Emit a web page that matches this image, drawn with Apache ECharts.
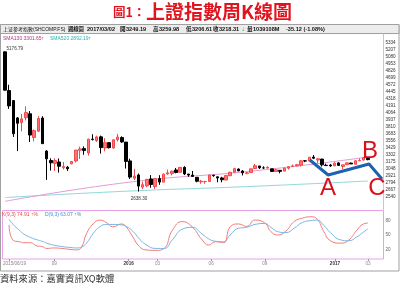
<!DOCTYPE html>
<html><head><meta charset="utf-8">
<script src="https://cdn.jsdelivr.net/npm/echarts@6/dist/echarts.min.js"></script>
<style>html,body{margin:0;padding:0;background:#fff}#c{width:400px;height:283px}</style>
</head><body><div id="c"></div>
<script>
// ---- data ----
const dates = ['2015/06/19','2015/06/26','2015/07/03','2015/07/10','2015/07/17','2015/07/24','2015/07/31','2015/08/07','2015/08/14','2015/08/21',
'2015/08/28','2015/09/02','2015/09/11','2015/09/18','2015/09/25','2015/09/30','2015/10/09','2015/10/16','2015/10/23','2015/10/30',
'2015/11/06','2015/11/13','2015/11/20','2015/11/27','2015/12/04','2015/12/11','2015/12/18','2015/12/25','2015/12/31','2016/01/08',
'2016/01/15','2016/01/22','2016/01/29','2016/02/05','2016/02/19','2016/02/26','2016/03/04','2016/03/11','2016/03/18','2016/03/25',
'2016/04/01','2016/04/08','2016/04/15','2016/04/22','2016/04/29','2016/05/06','2016/05/13','2016/05/20','2016/05/27','2016/06/03',
'2016/06/08','2016/06/17','2016/06/24','2016/07/01','2016/07/08','2016/07/15','2016/07/22','2016/07/29','2016/08/05','2016/08/12',
'2016/08/19','2016/08/26','2016/09/02','2016/09/09','2016/09/14','2016/09/23','2016/09/30','2016/10/14','2016/10/21','2016/10/28',
'2016/11/04','2016/11/11','2016/11/18','2016/11/25','2016/12/02','2016/12/09','2016/12/16','2016/12/23','2016/12/30','2017/01/06',
'2017/01/13','2017/01/20','2017/01/26','2017/02/03','2017/02/10','2017/02/17','2017/02/24','2017/03/02'];
const padCats = ['2017/03/10','2017/03/17','2017/03/24'];
const opens = [5174,4471,4290,3975,3890,3977,4050,3620,3735,3973,
3373,3203,3149,3175,3070,3081,3143,3193,3390,3418,
3339,3589,3563,3631,3430,3526,3431,3580,3620,3536,
3194,2880,2939,2720,2743,2868,2728,2875,2810,2958,
2965,3031,2990,3078,2956,2937,2897,2815,2820,2822,
2934,2906,2886,2848,2926,2989,3047,3011,2970,2983,
3057,3103,3068,3064,3051,3001,3024,3010,3063,3095,
3103,3118,3196,3195,3264,3211,3228,3116,3120,3105,
3159,3095,3126,3156,3133,3195,3210,3249.19];
const closes = [4478,4193,3687,3878,3957,4071,3664,3744,3965,3508,
3232,3160,3200,3098,3092,3053,3183,3391,3412,3383,
3590,3581,3630,3436,3525,3435,3579,3628,3539,3186,
2901,2917,2738,2763,2860,2767,2874,2810,2955,2979,
3010,2985,3078,2959,2938,2913,2827,2825,2821,2939,
2927,2885,2854,2932,2988,3054,3013,2979,2977,3051,
3108,3070,3067,3079,3003,3034,3005,3064,3091,3104,
3125,3196,3193,3262,3244,3233,3123,3110,3104,3154,
3113,3123,3159,3140,3197,3202,3253,3218.31];
const lows = [4476,4139,3630,3374,3730,3929,3537,3549,3717,3503,
2851,3019,3011,2983,3040,3012,3133,3166,3229,3306,
3290,3566,3540,3327,3368,3420,3414,3546,3522,3056,
2867,2848,2638.30,2683,2718,2707,2685,2761,2805,2944,
2932,2969,2980,2938,2905,2913,2806,2780,2780,2821,
2907,2807,2807,2846,2921,2981,3011,2931,2952,2977,
3057,3049,3051,3062,2999,2999,2969,3008,3037,3084,
3098,3093,3172,3195,3228,3153,3093,3102,3088,3100,
3105,3045,3126,3140,3131,3193,3202,3206.61];
const highs = [5176.79,4577,4297,3990,4047,4184,4100,3764,4006,4006,
3390,3242,3243,3239,3176,3100,3194,3394,3454,3459,
3596,3678,3653,3654,3608,3537,3581,3685,3640,3539,
3235,3051,2966,2820,2866,2938,2884,2936,2969,3037,
3018,3066,3083,3098,2960,3013,2900,2851,2832,2939,
2942,2908,2906,2937,3000,3070,3058,3028,2995,3051,
3140,3103,3097,3097,3053,3050,3028,3073,3093,3129,
3141,3211,3212,3264,3301,3249,3233,3146,3139,3172,
3171,3124,3166,3162,3205,3241,3265,3259.98];
// moving averages read at a few points: [bar index, value]
const sma130 = [[0,2461],[30,2811],[60,3016],[87,3265]];
const sma520 = [[0,2530],[29,2645],[60,2735],[87,2830]];
// KD oscillator read at points: [bar index, value]
const kLine = [[0,71],[1,39],[2.5,36],[3.6,34],[5.2,34],[6.8,27],[8,26],[9.2,22],[10.8,23],[12.8,22],[14.8,20],[16.4,19],[17.6,25],[18.8,53],[20.4,73],[22,81],[23.6,76],[25.2,67],[27.2,73],[28.4,67],[30,46],[31.6,26],[33.2,19],[35.6,18],[37.6,22],[39.6,60],[42,78],[44.4,67],[46.8,40],[48.4,29],[50,36],[52,34],[53.6,67],[55.6,73],[57.6,68],[59.6,81],[62,75],[63.5,57],[65.1,50],[67.1,58],[69.1,78],[71.1,85],[73.1,88],[74.7,83],[76.3,57],[77.9,38],[80.3,33],[82.3,39],[84.3,60],[85.9,73],[87,74.91]];
const dLine = [[0,83],[1,72],[2.5,60],[3.6,52],[5.2,45],[6.8,40],[8,37],[9.2,33],[10.8,29],[12.8,26],[14.8,24],[16.4,23],[17.6,25],[18.8,33],[20.4,53],[22,67],[23.6,72],[25.2,72],[27.2,71],[28.4,68],[30,58],[31.6,42],[33.2,30],[35.6,22],[37.6,22],[39.6,40],[42,62],[44.4,66],[46.8,52],[48.4,42],[50,37],[52,36],[53.6,50],[55.6,64],[57.6,66],[59.6,72],[62,74],[63.5,66],[65.1,57],[67.1,55],[69.1,64],[71.1,76],[73.1,80],[74.7,81],[76.3,70],[77.9,55],[80.3,40],[82.3,38],[84.3,46],[85.9,56],[87,63.07]];
// hand-drawn A-B-C wave annotation: [bar index, value]
const abcPath = [[73.1,3211],[77.5,2939],[87.3,3139],[90.4,2867]];
const priceTicks = [2540,2667,2794,2921,3048,3175,3302,3429,3556,3683,3810,3937,4064,4191,4318,4445,4572,4699,4826,4953,5080,5207,5334];
const kdTicks = [20,50,80];
const tickDates = ['2015/06/19','2015/09/02','2016/01/08','2016/03/04','2016/06/03','2016/09/02','2017/01/06','2017/03/02'];
const tickLabels = ['2015/06/19','09','2016','03','06','09','2017','03'];

// ---- chart ----
const FONT = "'Liberation Sans','Noto Sans CJK TC',sans-serif";
const CJK = "'Noto Sans CJK TC','Liberation Sans',sans-serif";
const cats = dates.concat(padCats);
const candles = dates.map((d,i)=>[opens[i],closes[i],lows[i],highs[i]]);
const isTick = (i, v) => tickDates.indexOf(v) >= 0;
const chart = echarts.init(document.getElementById('c'), null, {renderer:'canvas'});
const GL = 2.9, GW = 379.5;
chart.setOption({
  animation:false,
  backgroundColor:'#fff',
  grid:[{left:GL, top:36, width:GW, height:168},{left:GL, top:211, width:GW, height:48}],
  xAxis:[
    {type:'category', gridIndex:0, data:cats, boundaryGap:true, axisLine:{show:false}, axisTick:{show:false}, axisLabel:{show:false}, splitLine:{show:false}},
    {type:'value', gridIndex:0, min:-0.5, max:90.5, show:false},
    {type:'category', gridIndex:1, data:cats, boundaryGap:true, axisLine:{show:false},
      axisTick:{show:true, interval:isTick, alignWithLabel:true, length:2, lineStyle:{color:'#999', width:1}},
      axisLabel:{interval:isTick, margin:2, fontSize:4.6, color:'#888', fontFamily:FONT,
        formatter:(v)=>{const k=tickDates.indexOf(v); const s=tickLabels[k]; if(k===0) return '{f|'+s+'}'; return s.length===4?'{y|'+s+'}':s;},
        rich:{y:{fontSize:4.6, fontWeight:'bold', color:'#333', fontFamily:FONT}, f:{fontSize:4.6, color:'#888', fontFamily:FONT, padding:[0,0,0,11]}}},
      splitLine:{show:false}},
    {type:'value', gridIndex:1, min:-0.5, max:90.5, show:false}
  ],
  yAxis:[
    {type:'value', gridIndex:0, position:'right', min:2413, max:5461, interval:127,
      splitLine:{show:false}, axisLine:{show:false}, axisTick:{show:false},
      axisLabel:{customValues:priceTicks, formatter:(v)=>String(v), fontSize:4.6, color:'#333', margin:3, fontFamily:FONT}},
    {type:'value', gridIndex:1, position:'right', min:0, max:100,
      splitLine:{show:false}, axisLine:{show:false}, axisTick:{show:false},
      axisLabel:{customValues:kdTicks, formatter:(v)=>String(v), fontSize:4.6, color:'#666', margin:3, fontFamily:FONT}}
  ],
  series:[
    {type:'line', xAxisIndex:1, yAxisIndex:0, data:sma520, symbol:'none', smooth:true, lineStyle:{color:'#8fd8dc', width:1}, silent:true, z:1},
    {type:'line', xAxisIndex:1, yAxisIndex:0, data:sma130, symbol:'none', smooth:true, lineStyle:{color:'#e49ad8', width:1}, silent:true, z:1},
    {type:'candlestick', xAxisIndex:0, yAxisIndex:0, data:candles, barWidth:3, z:2,
      itemStyle:{color:'#ff7474', color0:'#000000', borderColor:'#f24a4a', borderColor0:'#000000', borderWidth:1}},
    {type:'line', xAxisIndex:1, yAxisIndex:0, data:abcPath, symbol:'none', lineStyle:{color:'#1c62b0', width:3}, silent:true, z:3},
    {type:'line', xAxisIndex:3, yAxisIndex:1, data:kLine, symbol:'none', smooth:true, lineStyle:{color:'#f47c7c', width:1}, silent:true},
    {type:'line', xAxisIndex:3, yAxisIndex:1, data:dLine, symbol:'none', smooth:true, lineStyle:{color:'#78b6e6', width:1}, silent:true}
  ]
});

function T(x, y, text, size, color, o) {
  o = o || {};
  return {type:'text', x:x, y:y, silent:true, z:o.z||10,
    style:{text:text, fontSize:size, fontFamily:o.ff||FONT, fontWeight:o.fw||'normal', fill:color,
      align:o.align||'left', verticalAlign:'middle'}};
}
const g = [];
// frames
g.push({type:'rect', shape:{x:0.5,y:24.5,width:398.5,height:246.5}, style:{fill:'none', stroke:'#a0a0a0', lineWidth:1}, silent:true, z:0});
g.push({type:'rect', shape:{x:0.5,y:24.5,width:398.5,height:9}, style:{fill:'#ececec', stroke:'#a0a0a0', lineWidth:1}, silent:true, z:0});
g.push({type:'line', shape:{x1:383.5,y1:33.5,x2:383.5,y2:210}, style:{stroke:'#c8c8c8', lineWidth:1}, silent:true, z:0});
g.push({type:'rect', shape:{x:2.5,y:210.5,width:381,height:48.5}, style:{fill:'none', stroke:'#e6a2e6', lineWidth:1}, silent:true, z:0});
// title
g.push(T(113, 12.5, '圖1：', 12.5, '#e0141e', {ff:CJK, fw:'bold'}));
g.push(T(146, 12, '上證指數周K線圖', 19, '#e0141e', {ff:CJK, fw:'bold'}));
// header
const hy = 29.2;
g.push(T(3, hy, '上证参考指數(SHCOMP.FS)', 5, '#111', {}));
g.push(T(68, hy, '週線圖', 5.3, '#111', {fw:'bold'}));
[[87,'2017/03/02'],[120,'開'],[126,'3249.19'],[153,'高'],[159,'3259.98'],[186,'低'],[192,'3206.61'],[213,'收'],[219,'3218.31'],[247,'量'],[253,'1039108M'],[286,'-35.12 (-1.08%)']]
  .forEach(a=>g.push(T(a[0], hy, a[1], 5.6, '#111', {fw:'bold'})));
g.push(T(241.5, hy, '↓', 6.5, '#10a010', {fw:'bold'}));
// MA legend
g.push(T(3, 38.3, 'SMA130 3301.65', 5, '#b5307e', {}));
g.push(T(41.5, 38.3, '↑', 5, '#e02020', {}));
g.push(T(50, 38.3, 'SMA520 2892.19', 5, '#2cb0b0', {}));
g.push(T(88.5, 38.3, '↑', 5, '#e02020', {}));
// KD legend
g.push(T(2, 215, 'K(9,3) 74.91 ↑%', 5, '#e84848', {}));
g.push(T(45, 215, 'D(9,3) 63.07 ↑%', 5, '#3d8fd6', {}));
// wave letters
g.push(T(328, 188, 'A', 24, '#d8111c', {align:'center', ff:"'Liberation Sans',sans-serif"}));
g.push(T(370, 151, 'B', 24, '#d8111c', {align:'center', ff:"'Liberation Sans',sans-serif"}));
g.push(T(377, 188, 'C', 24, '#d8111c', {align:'center', ff:"'Liberation Sans',sans-serif"}));
// source
g.push(T(0, 278, '資料來源：嘉實資訊XQ軟體', 9.3, '#333', {ff:CJK}));
// extreme labels positioned through the chart's own scales
const iMax = highs.indexOf(Math.max.apply(null, highs));
const iMin = lows.indexOf(Math.min.apply(null, lows));
const pMax = chart.convertToPixel({xAxisIndex:0, yAxisIndex:0}, [dates[iMax], highs[iMax]]);
const pMin = chart.convertToPixel({xAxisIndex:0, yAxisIndex:0}, [dates[iMin], lows[iMin]]);
g.push(T(pMax[0]+1.5, pMax[1]-2.5, highs[iMax].toFixed(2), 4.6, '#333', {}));
g.push(T(pMin[0]+0.5, pMin[1]+7.5, lows[iMin].toFixed(2), 4.6, '#333', {align:'center'}));
chart.setOption({graphic:g});
</script></body></html>
